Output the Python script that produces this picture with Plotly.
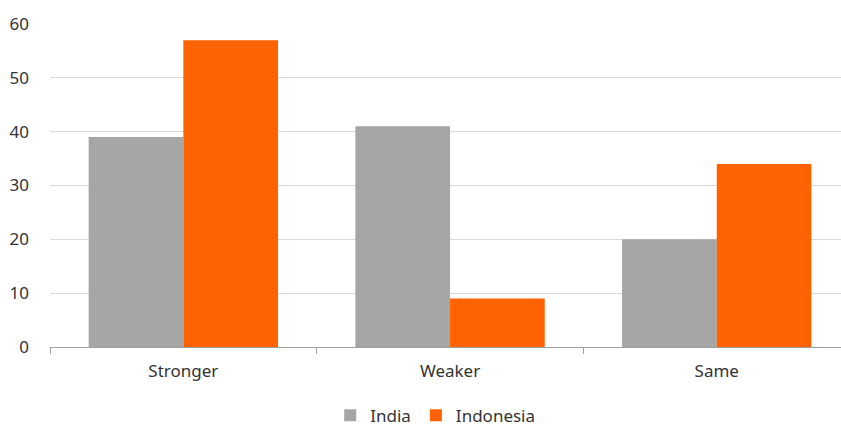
import plotly.graph_objects as go

categories = ["Stronger", "Weaker", "Same"]
india = [39, 41, 20]
indonesia = [57, 9, 34]
y_ticks = [0, 10, 20, 30, 40, 50, 60]

fig = go.Figure()
fig.add_trace(go.Bar(name="India", x=categories, y=india, marker=dict(color="#A6A6A6", line=dict(width=0))))
fig.add_trace(go.Bar(name="Indonesia", x=categories, y=indonesia, marker=dict(color="#FF6200", line=dict(width=0))))

W, H = 841, 426
ml, mr, mt, mb = 50, 0, 24, 79
cat_w = 266.7
plot_w = W - ml - mr
fig.update_layout(
    width=W, height=H,
    margin=dict(l=ml, r=mr, t=mt, b=mb, pad=0, autoexpand=False),
    barmode="group", bargap=0.29, bargroupgap=0,
    plot_bgcolor="white", paper_bgcolor="white",
    font=dict(family="Noto Sans, Open Sans, sans-serif", size=16, color="#333333"),
    legend=dict(orientation="h", x=0.487, xanchor="center", yref="container", y=0.024, yanchor="middle",
                font=dict(size=17, color="#333333"), itemwidth=30, tracegroupgap=0),
    showlegend=True,
)
fig.update_xaxes(
    range=[-0.5, -0.5 + plot_w / cat_w],
    showgrid=False, showline=True, linecolor="#A0A0A0", linewidth=1,
    ticks="outside", tickson="boundaries", ticklen=6, tickcolor="#A0A0A0",
    ticklabelstandoff=9,
    tickfont=dict(size=17, color="#333333"),
)
fig.update_yaxes(
    range=[0, 60], tickvals=y_ticks, showgrid=True, gridcolor="#D9D9D9", gridwidth=1,
    zeroline=False, showline=False, ticks="", ticklabelstandoff=20,
    tickfont=dict(size=17, color="#333333"),
)
fig.write_html("out.html")
